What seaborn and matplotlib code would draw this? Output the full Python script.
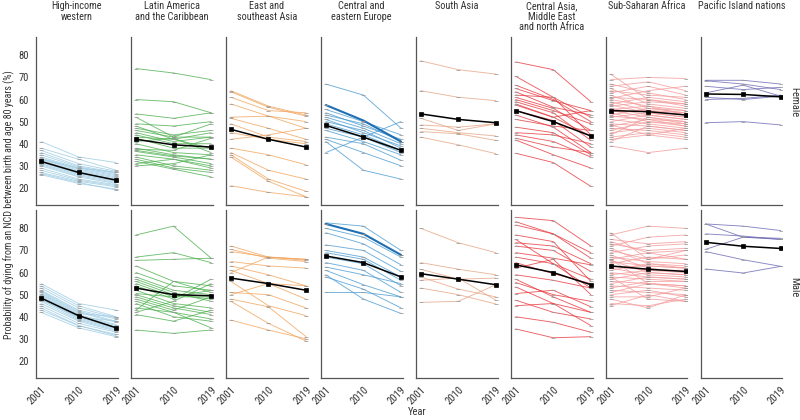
import matplotlib
matplotlib.use("Agg")
import matplotlib.pyplot as plt
import matplotlib.transforms as mtransforms
import pandas as pd
import seaborn as sns

years = [2001, 2010, 2019]

# each tuple: one country's (2001, 2010, 2019) value, %
hiw_female = [(41, 34, 31.5), (38, 33, 28), (37, 31, 27.5), (36, 30, 27), (34, 29, 26),
              (33.5, 28.5, 25.5), (33, 28, 25), (32.5, 27.5, 24.5), (32, 27, 24), (31.5, 26.5, 23.5),
              (31, 26, 23), (30.5, 25.5, 22.5), (30, 25, 22), (29, 24, 21.5), (28, 23.5, 21),
              (27, 23, 20.5), (26, 22, 19.5), (26.5, 22.5, 19), (35, 29.5, 26.5), (33, 29, 27)]
hiw_male = [(55, 46, 43), (54, 45, 40), (53, 44, 39.5), (52, 43, 39), (51.5, 42.5, 38),
            (51, 42, 37.5), (50, 41, 36.5), (49.5, 40.5, 36), (49, 40, 35.5), (48.5, 39.5, 35),
            (48, 39, 34.5), (47, 38.5, 34), (46, 38, 33.5), (45, 37, 33), (44, 36, 32),
            (43, 36, 31.5), (42, 35, 31), (50.5, 41.5, 40), (47.5, 40, 38)]
lat_female = [(74, 72, 69), (60, 59, 54), (53.5, 51.5, 54), (52, 43, 49), (49, 48, 50), (48, 42, 45),
              (46, 43, 43), (45, 41, 43), (44, 40, 40), (42.5, 38, 38), (41, 42.5, 36), (40, 36, 35),
              (38, 35, 33), (37, 34.5, 33), (36.5, 34, 31), (35, 33, 29), (34, 30, 28), (33, 29, 27),
              (32, 28.5, 25), (31, 33, 30), (30, 31, 35), (37.5, 37, 42.5), (43, 42, 38), (47, 44, 46)]
lat_male = [(77, 81, 66.5), (67, 69, 64.5), (65.5, 66, 66.5), (63, 56, 54), (60, 54, 52), (58, 52, 50),
            (56, 50, 48), (55, 49, 49), (54, 48, 57), (52, 46, 44), (50, 45, 42), (49, 44, 41),
            (48, 43, 49), (47, 42, 39), (46, 40, 38), (44, 42, 35), (43, 56, 51), (42, 47, 55),
            (41, 38, 43), (34, 32.5, 34), (57, 51, 47), (50.5, 49, 52)]
esa_female = [(64, 57, 53), (63.5, 56.5, 52.5), (61, 55, 54), (58, 52.5, 50), (52, 52.5, 47),
              (51.5, 47, 42), (49, 43, 41), (45, 42, 40), (42, 44, 47), (38, 35, 30.5),
              (36, 28, 24), (35, 24, 18.5), (34, 23, 16), (21, 18, 16)]
esa_male = [(72, 67, 66), (70.5, 66.5, 65), (69.5, 67, 65.5), (65, 63, 62), (63, 59, 54),
            (61, 55, 48), (60, 67, 66), (56, 45, 40.5), (51, 50, 44), (50, 55, 54),
            (48, 44.5, 31), (47, 37, 29), (38.5, 34, 30)]
cee_female = [(67, 62, 47), (55.5, 50, 44), (54, 48, 42), (53, 49, 41), (52, 47, 40), (51, 45, 39),
              (50, 46, 38), (49, 44, 37), (47, 43, 36), (46, 41, 35), (43, 40, 32.5), (42, 36, 30),
              (36, 43, 50), (41, 28, 24)]
cee_male = [(82.5, 81, 70), (80, 76, 67), (78, 73, 63.5), (72.5, 70, 60.5), (70, 67, 58),
            (69, 66, 56.5), (67, 64, 54), (64.5, 61, 51), (62.5, 59, 55), (61, 54.5, 49),
            (58, 52.5, 44), (59, 48, 41.5), (51, 51, 49)]
cee_female_top = (57.5, 50.5, 41)
cee_male_top = (82, 77.5, 68)
sa_female = [(77.5, 73.5, 71.5), (64, 61, 59.5), (51.5, 46, 49), (48.5, 47.5, 49),
             (47, 45, 43.5), (45.5, 44.5, 41.5), (43, 39.5, 35.5)]
sa_male = [(80, 73.5, 69), (64.5, 61.5, 59), (61.5, 57, 57.5), (56.5, 57.5, 47.5),
           (53, 50, 45.8), (46.5, 47, 54.5), (58, 52.5, 49)]
came_female = [(77, 73.5, 59), (70.5, 61, 52), (66.5, 60, 50), (65, 59.5, 55), (63.5, 56.5, 53),
               (62, 61, 44), (61, 56, 46), (60, 55, 49), (59, 54, 41.5), (57.5, 52, 43.5),
               (55, 50.5, 38.5), (53, 47.5, 36), (51, 48, 46), (47.5, 45, 35), (44, 41, 34),
               (42.5, 38.5, 36), (41.7, 35, 29), (35.7, 31.5, 20.7), (58, 52, 55), (45, 44, 40)]
came_male = [(85, 83.5, 72), (83, 77.5, 66.5), (81.5, 77.5, 69), (77, 74, 56), (73.5, 72, 64),
             (72, 70, 60.5), (69, 66.5, 63.5), (67, 64, 57), (62, 66, 50), (59, 56.5, 53),
             (55.5, 50, 47), (53.5, 46, 42), (50.5, 52, 44.5), (47.5, 42, 39), (45, 46, 36),
             (40, 37.5, 33), (34.5, 30.5, 31), (75, 64, 53), (64.5, 59.5, 55), (57, 49, 42)]
ssa_female = [(71.5, 60, 58), (69, 70, 69.5), (67, 63, 60), (66, 68, 64), (65, 58, 56), (64, 62, 61),
              (63, 66, 62), (62, 56, 55), (61, 60, 57), (60, 57, 53), (59, 55, 54), (58, 61, 59),
              (57.5, 54, 52), (57, 59, 58), (56, 53, 51), (55.5, 57, 55), (55, 52, 50), (54.5, 55, 53),
              (54, 50, 49), (53, 56, 54), (52.5, 51, 48), (52, 54, 52), (51, 49, 47), (50, 53, 51),
              (49, 48, 46), (48, 51, 50), (47, 46, 44), (46, 50, 48), (45, 47, 45), (44, 52, 49),
              (43, 45, 43), (42, 44, 47), (41, 48, 46), (39, 36, 38), (60.5, 64, 66), (48.5, 44, 42)]
ssa_male = [(78, 66, 70), (77, 81, 80), (75, 73, 74), (74, 69, 66), (73, 70, 71), (72, 76, 77),
            (71, 64, 62), (70, 66, 68), (69, 72, 73), (68, 62, 60), (67, 65, 64), (66, 69, 70),
            (65.5, 60, 59), (65, 63, 62), (64, 67, 66), (63, 61, 60), (62.5, 63, 62), (62, 59, 58),
            (61, 64, 63), (60, 58, 57), (59, 61, 61), (58, 57, 56), (57, 60, 59), (56, 55, 54),
            (55, 58, 57), (54, 53, 52), (53, 56, 56), (52, 51, 50), (51, 55, 54), (50, 52, 49),
            (49, 49, 53), (48, 44, 50), (46, 45, 48), (45, 50, 47), (66, 55, 53), (58, 48, 47)]
pac_female = [(68.7, 68.7, 67), (68.5, 67, 64.5), (66, 64.5, 65.5), (63, 66.5, 61.5),
              (61, 60, 61.5), (60, 60.5, 62), (49.5, 50, 48.5)]
pac_male = [(82, 81, 79), (82, 76, 75), (77.5, 76.5, 75), (70.5, 76, 75.5),
            (69.5, 65.8, 62.8), (61.6, 59.8, 62.8)]

# regional means (black lines)
mean_female = [(32, 27, 23.5), (42, 39.5, 38.5), (46.5, 42, 38.5), (48.3, 43, 37),
               (53.5, 51, 49.5), (55, 50, 43.5), (55, 54.5, 53), (62.5, 62.3, 61.2)]
mean_male = [(48.5, 40.5, 35), (53, 50, 49.5), (57.5, 55, 52), (67.5, 64.5, 58),
             (59.5, 57, 54.5), (63.5, 60, 54.5), (63, 61.5, 60.5), (73.7, 71.9, 70.9)]

titles = ["High-income\nwestern", "Latin America\nand the Caribbean", "East and\nsoutheast Asia",
          "Central and\neastern Europe", "South Asia", "Central Asia,\nMiddle East\nand north Africa",
          "Sub-Saharan Africa", "Pacific Island nations"]
female_sets = [hiw_female, lat_female, esa_female, cee_female, sa_female, came_female, ssa_female, pac_female]
male_sets = [hiw_male, lat_male, esa_male, cee_male, sa_male, came_male, ssa_male, pac_male]
colours = ["#9ccbe3", "#4db04f", "#f2a45c", "#4a9ad2", "#e6a583", "#e8383d", "#f49a9a", "#6a68b4"]


def to_long(rows):
    recs = []
    for i, r in enumerate(rows):
        for y, v in zip(years, r):
            recs.append({"country": i, "year": y, "value": v})
    return pd.DataFrame(recs)


sns.set_style("white")
# narrow face if one is there, plain sans otherwise
plt.rcParams["font.family"] = ["Roboto Condensed", "PT Sans Narrow", "Archivo Narrow", "Liberation Sans"]
fs = 7.6

fig, axes = plt.subplots(2, 8, figsize=(8, 4.2), dpi=100, sharey=True)
fig.subplots_adjust(left=0.045, right=0.978, top=0.912, bottom=0.1, wspace=0.16, hspace=0.03)

for row, (sets, means) in enumerate([(female_sets, mean_female), (male_sets, mean_male)]):
    for col in range(8):
        ax = axes[row, col]
        df = to_long(sets[col])
        sns.lineplot(data=df, x="year", y="value", units="country", estimator=None,
                     color=colours[col], lw=0.65, alpha=0.8, marker="_", ms=3.5,
                     mec="#999999", mew=0.7, ax=ax, legend=False)
        if col == 3:
            top = cee_female_top if row == 0 else cee_male_top
            sns.lineplot(x=years, y=list(top), color="#1f6fb2", lw=1.5, marker="_", ms=3.5,
                         mec="#888888", mew=0.7, ax=ax)
        sns.lineplot(x=years, y=list(means[col]), color="black", lw=1.1, marker="s", ms=2.5,
                     mec="black", mew=0.5, ax=ax)
        ax.set_xlim(1999.8, 2019.4)
        ax.set_ylim(12.3, 88.3)
        ax.set_xlabel("")
        ax.set_ylabel("")
        sns.despine(ax=ax)
        for s in ["left", "bottom"]:
            ax.spines[s].set_color("#555555")
            ax.spines[s].set_linewidth(0.9)
        ax.set_xticks(years)
        if row == 0:
            ax.tick_params(axis="x", length=0, labelbottom=False)
            trans = mtransforms.blended_transform_factory(ax.transAxes, fig.transFigure)
            ax.text(0.5, 0.997, titles[col], transform=trans, ha="center", va="top",
                    fontsize=7.4, color="#333333", linespacing=1.05)
        else:
            ax.set_xticklabels([str(y) for y in years], rotation=45, ha="right",
                               rotation_mode="anchor", fontsize=fs, color="#333333")
            ax.tick_params(axis="x", length=3, width=0.8, color="#555555", pad=2)
        if col == 0:
            ax.set_yticks([20, 30, 40, 50, 60, 70, 80])
            ax.tick_params(axis="y", length=3, width=0.8, color="#555555", labelsize=fs,
                           labelcolor="#333333", pad=2)
        else:
            ax.tick_params(axis="y", length=0, labelleft=False)

fig.text(0.011, 0.512, "Probability of dying from an NCD between birth and age 80 years (%)",
         rotation=90, ha="center", va="center", fontsize=7.2, color="#333333")
fig.text(0.522, 0.018, "Year", ha="center", va="center", fontsize=fs, color="#333333")
fig.text(0.993, 0.757, "Female", rotation=-90, ha="center", va="center", fontsize=fs, color="#333333")
fig.text(0.993, 0.317, "Male", rotation=-90, ha="center", va="center", fontsize=fs, color="#333333")

fig.savefig("out.png", dpi=100)
